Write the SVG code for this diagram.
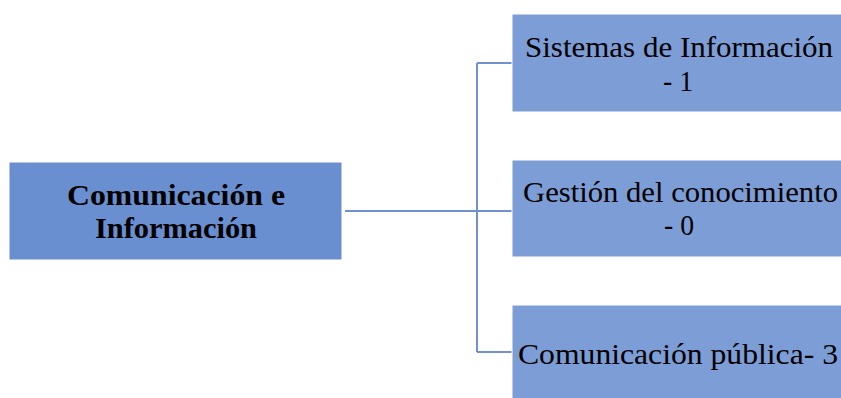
<svg xmlns="http://www.w3.org/2000/svg" width="841" height="398" viewBox="0 0 841 398">
<style>
.main{fill:#6A8FD0;stroke:#FFFFFF;stroke-width:1}
.sub{fill:#7C9DD6;stroke:#FFFFFF;stroke-width:1}
.t{font-family:"Liberation Serif","Times New Roman",serif;font-size:30px;fill:#000000}
.b{font-weight:bold;font-size:30px}
.c{fill:none;stroke:#7090D0;stroke-width:2}
</style>
<rect width="841" height="398" fill="#FFFFFF"/>
<g id="connectors">
<path class="c" d="M345 211 H477 M477 63 V352 M477 63 H512 M477 211 H512 M477 352 H512"/>
</g>
<g id="node-main">
<rect class="main" x="9" y="162" width="333" height="98"/>
<text class="t b" x="67" y="205" textLength="218" lengthAdjust="spacingAndGlyphs">Comunicación  e</text>
<text class="t b" x="95" y="238" textLength="162" lengthAdjust="spacingAndGlyphs">Información</text>
</g>
<g id="node-sistemas">
<rect class="sub" x="512" y="14" width="335" height="98"/>
<text class="t" x="525" y="57" textLength="308" lengthAdjust="spacingAndGlyphs">Sistemas  de Información</text>
<text class="t" x="663" y="91" textLength="30" lengthAdjust="spacingAndGlyphs">- 1</text>
</g>
<g id="node-gestion">
<rect class="sub" x="512" y="160" width="335" height="97"/>
<text class="t" x="523" y="202" textLength="315" lengthAdjust="spacingAndGlyphs">Gestión  del conocimiento</text>
<text class="t" x="664" y="235" textLength="30" lengthAdjust="spacingAndGlyphs">- 0</text>
</g>
<g id="node-comunicacion">
<rect class="sub" x="512" y="305" width="335" height="100"/>
<text class="t" x="518" y="364" textLength="320" lengthAdjust="spacingAndGlyphs">Comunicación  pública-  3</text>
</g>
</svg>
